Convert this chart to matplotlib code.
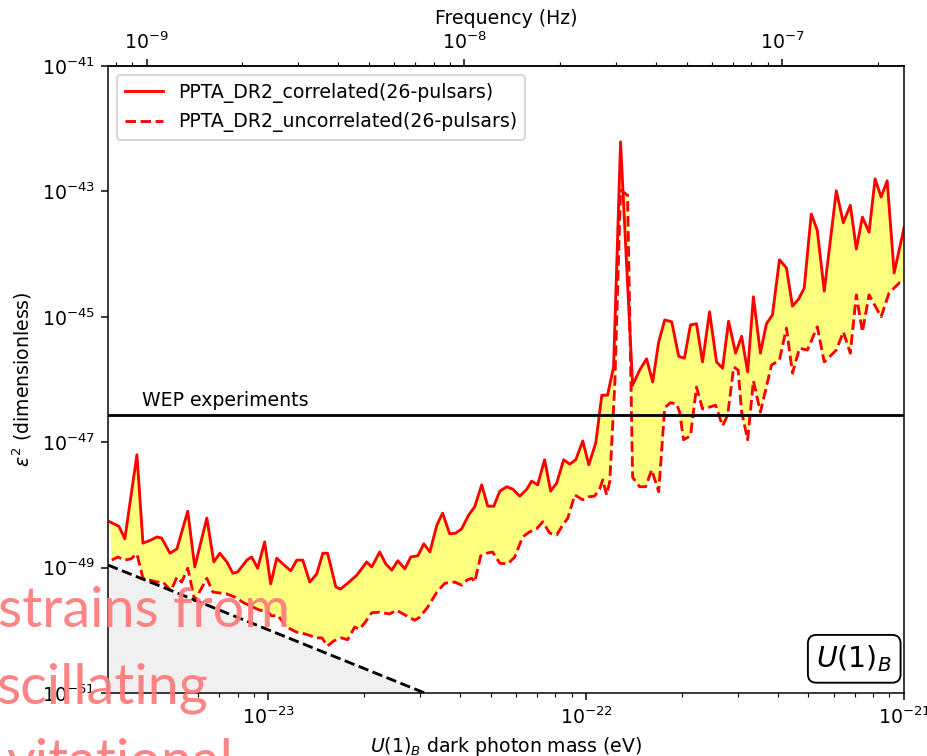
import numpy as np
import matplotlib
matplotlib.use('Agg')
import matplotlib.pyplot as plt

# log10 of dark photon mass (eV) and eps^2
mass_corr_log = [-23.499, -23.471, -23.452, -23.414, -23.395, -23.370, -23.351, -23.336, -23.310, -23.288,
                 -23.254, -23.232, -23.194, -23.172, -23.153, -23.131, -23.112, -23.097, -23.068, -23.053,
                 -23.034, -23.012, -22.993, -22.974, -22.955, -22.930, -22.911, -22.892, -22.870, -22.848,
                 -22.829, -22.814, -22.788, -22.773, -22.751, -22.722, -22.691, -22.675, -22.650, -22.631,
                 -22.612, -22.593, -22.571, -22.552, -22.530, -22.511, -22.492, -22.470, -22.452, -22.430,
                 -22.411, -22.392, -22.370, -22.351, -22.329, -22.310, -22.291, -22.272, -22.250, -22.231,
                 -22.209, -22.187, -22.172, -22.153, -22.131, -22.112, -22.093, -22.071, -22.052, -22.033,
                 -22.011, -21.992, -21.970, -21.951, -21.933, -21.914, -21.892, -21.873, -21.854, -21.832,
                 -21.810, -21.791, -21.772, -21.753, -21.731, -21.709, -21.691, -21.672, -21.653, -21.634,
                 -21.612, -21.590, -21.571, -21.552, -21.530, -21.511, -21.492, -21.474, -21.452, -21.433,
                 -21.414, -21.392, -21.370, -21.351, -21.332, -21.314, -21.292, -21.273, -21.251, -21.213,
                 -21.191, -21.169, -21.150, -21.131, -21.110, -21.091, -21.072, -21.053, -21.031, -21.000]
eps_corr_log = [-48.27, -48.34, -48.54, -47.20, -48.61, -48.56, -48.51, -48.53, -48.77, -48.70,
                -48.10, -48.99, -48.21, -48.91, -48.77, -48.91, -49.09, -49.07, -48.88, -48.83,
                -49.01, -48.59, -49.26, -48.85, -48.94, -49.05, -48.88, -48.88, -49.23, -49.10,
                -48.77, -48.77, -49.31, -49.34, -49.25, -49.12, -48.91, -48.99, -48.75, -48.94,
                -49.04, -48.89, -49.02, -48.83, -48.81, -48.62, -48.75, -48.32, -48.13, -48.46,
                -48.45, -48.38, -48.16, -48.03, -47.68, -48.02, -48.02, -47.78, -47.71, -47.75,
                -47.86, -47.75, -47.62, -47.68, -47.28, -47.78, -47.65, -47.28, -47.35, -47.28,
                -46.98, -47.36, -47.01, -46.25, -46.25, -45.80, -42.21, -44.17, -46.09, -45.85,
                -45.67, -46.04, -45.40, -45.05, -45.08, -45.63, -45.66, -45.13, -45.11, -45.72,
                -44.92, -45.72, -45.82, -45.07, -45.58, -45.31, -45.88, -44.68, -45.58, -45.11,
                -44.97, -44.09, -44.22, -44.83, -44.72, -44.54, -43.36, -43.62, -44.59, -42.99,
                -43.50, -43.22, -43.92, -43.41, -43.65, -42.80, -43.09, -42.83, -44.30, -43.58]

mass_unc_log = [-23.493, -23.474, -23.452, -23.433, -23.414, -23.395, -23.373, -23.351, -23.332, -23.307,
                -23.288, -23.273, -23.254, -23.232, -23.194, -23.175, -23.131, -23.106, -23.078, -23.049,
                -23.027, -23.005, -22.990, -22.971, -22.942, -22.911, -22.883, -22.848, -22.832, -22.814,
                -22.795, -22.770, -22.751, -22.729, -22.713, -22.697, -22.675, -22.650, -22.619, -22.597,
                -22.565, -22.540, -22.524, -22.499, -22.470, -22.445, -22.414, -22.392, -22.376, -22.360,
                -22.351, -22.332, -22.313, -22.295, -22.272, -22.247, -22.225, -22.200, -22.178, -22.156,
                -22.137, -22.115, -22.093, -22.074, -22.058, -22.036, -22.011, -21.992, -21.974, -21.958,
                -21.948, -21.936, -21.926, -21.910, -21.892, -21.870, -21.854, -21.832, -21.813, -21.794,
                -21.772, -21.753, -21.735, -21.716, -21.706, -21.694, -21.672, -21.653, -21.634, -21.612,
                -21.593, -21.571, -21.555, -21.536, -21.522, -21.511, -21.492, -21.474, -21.452, -21.417,
                -21.392, -21.370, -21.351, -21.329, -21.304, -21.273, -21.251, -21.213, -21.191, -21.169,
                -21.150, -21.131, -21.110, -21.072, -21.047, -21.015, -21.000]
eps_unc_log = [-48.88, -48.83, -48.88, -48.86, -48.78, -49.17, -49.20, -49.23, -49.23, -49.37,
               -49.15, -49.23, -49.01, -49.53, -49.17, -49.39, -49.42, -49.47, -49.56, -49.63,
               -49.68, -49.69, -49.77, -49.76, -49.95, -50.03, -50.06, -50.12, -50.12, -50.25,
               -50.17, -50.12, -50.15, -49.95, -49.98, -49.88, -49.72, -49.71, -49.74, -49.68,
               -49.77, -49.84, -49.79, -49.63, -49.39, -49.25, -49.23, -49.28, -49.20, -49.17,
               -49.23, -48.81, -48.77, -48.75, -48.93, -48.94, -48.83, -48.51, -48.43, -48.38,
               -48.27, -48.45, -48.48, -48.32, -48.21, -47.84, -47.92, -47.87, -47.86, -47.75,
               -47.60, -47.84, -47.63, -46.06, -42.98, -43.06, -47.56, -47.71, -47.71, -47.44,
               -47.79, -46.45, -46.37, -46.39, -46.52, -46.96, -46.90, -46.12, -46.47, -46.44,
               -46.41, -46.74, -46.57, -45.80, -45.85, -46.52, -46.96, -46.02, -46.52, -45.77,
               -45.69, -45.18, -45.90, -45.50, -45.53, -45.16, -45.72, -45.53, -45.24, -45.58,
               -44.65, -45.24, -44.65, -45.00, -44.62, -44.46, -44.45]

wep_eps = 2.7e-47
bound_mass = [3.126e-24, 3.105e-23]
bound_eps = [1.1e-49, 1e-51]

h_eVs = 4.1357e-15  # m c^2 / h -> frequency

m_corr = 10 ** np.array(mass_corr_log)
e_corr = 10 ** np.array(eps_corr_log)
m_unc = 10 ** np.array(mass_unc_log)
e_unc = 10 ** np.array(eps_unc_log)

fig = plt.figure(figsize=(927 / 136, 756 / 136), dpi=136)
ax = fig.add_axes([0.1165, 0.0833, 0.8587, 0.8294])
ax.set_xscale('log')
ax.set_yscale('log')

ax.fill(np.concatenate([m_corr, m_unc[::-1]]), np.concatenate([e_corr, e_unc[::-1]]),
        color='yellow', alpha=0.5, lw=0)
ax.plot(m_corr, e_corr, color='red', lw=1.5, label='PPTA_DR2_correlated(26-pulsars)')
ax.plot(m_unc, e_unc, color='red', ls='--', lw=1.5, label='PPTA_DR2_uncorrelated(26-pulsars)')

ax.fill_between(bound_mass, bound_eps, 1e-52, color='0.94', lw=0)
ax.plot(bound_mass, bound_eps, 'k--', lw=1.5)

ax.axhline(wep_eps, color='k', lw=1.5)
ax.text(4.0e-24, 3.3e-47, 'WEP experiments', fontsize=10, va='bottom')

ax.set_xlim(3.126e-24, 1e-21)
ax.set_ylim(1e-51, 1e-41)
ax.set_xlabel(r'$U(1)_B$ dark photon mass (eV)')
ax.set_ylabel(r'$\epsilon^2$ (dimensionless)')
ax.legend(loc='upper left')

ax.text(0.985, 0.03, r'$U(1)_B$', transform=ax.transAxes, fontsize=15, ha='right', va='bottom',
        bbox=dict(boxstyle='round', facecolor='white', edgecolor='black'))

sec = ax.secondary_xaxis('top', functions=(lambda m: m / h_eVs, lambda f: f * h_eVs))
sec.set_xlabel('Frequency (Hz)')

# slide text lying over the figure
pink = '#ff7a7a'
fig.text(290 / 927, 1 - 627 / 756, 'strains from', color=pink, alpha=0.92, family='Lato',
         fontsize=29.5, ha='right', va='baseline', zorder=10)
fig.text(208 / 927, 1 - 703 / 756, 'scillating', color=pink, alpha=0.92, family='Lato',
         fontsize=29.5, ha='right', va='baseline', zorder=10)
fig.text(233 / 927, 1 - 779 / 756, 'vitational', color=pink, alpha=0.92, family='Lato',
         fontsize=29.5, ha='right', va='baseline', zorder=10)

fig.savefig('out.png', dpi=136)
